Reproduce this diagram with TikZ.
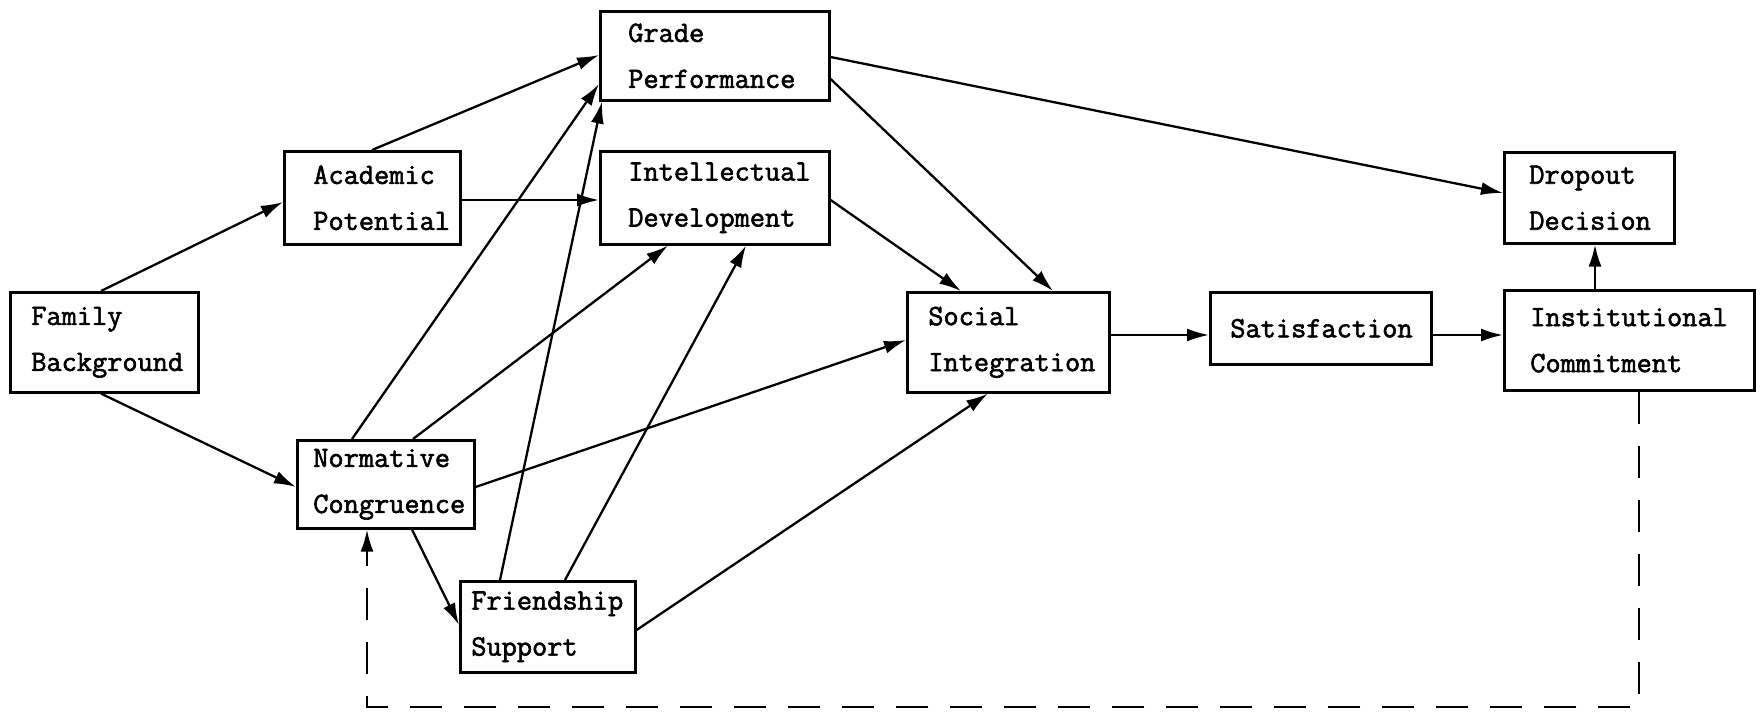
\documentclass[tikz,border=0pt]{standalone}
\usepackage{fontspec}
\newfontfamily\tw{Latin Modern Mono}[FakeBold=2]
\usetikzlibrary{arrows.meta,calc}
\hbadness=10000 \hfuzz=300pt
\begin{document}
\begin{tikzpicture}[x=1pt,y=-1pt,
  box/.style={draw, line width=2.6pt, inner ysep=0pt, align=left, anchor=north west,
    font=\tw\fontsize{29.5pt}{46pt}\selectfont},
  conn/.style={line width=2.3pt, -{Latex[length=22pt,width=13pt]}},
  loopline/.style={line width=2.3pt, dash pattern=on 32pt off 22pt, -{Latex[length=22pt,width=13pt]}},
]
\useasboundingbox (0,0) rectangle (1763,712);

\node[box, minimum width=188pt, minimum height=100pt, text width=146pt, inner xsep=21pt] (fb) at (9,291) {Family\\Background};
\node[box, minimum width=176pt, minimum height=93pt, text width=118pt, inner xsep=29pt] (ap) at (283,150) {Academic\\Potential};
\node[box, minimum width=229pt, minimum height=89pt, text width=173pt, inner xsep=28pt] (gp) at (599,10) {Grade\\Performance};
\node[box, minimum width=229pt, minimum height=93pt, text width=173pt, inner xsep=28pt] (id) at (599,150) {Intellectual\\Development};
\node[box, minimum width=177pt, minimum height=88pt, text width=145pt, inner xsep=16pt] (nc) at (296,439) {Normative\\Congruence};
\node[box, minimum width=175pt, minimum height=91pt, text width=153pt, inner xsep=11pt] (fs) at (459,580) {Friendship\\Support};
\node[box, minimum width=202pt, minimum height=100pt, text width=160pt, inner xsep=21pt] (si) at (906,291) {Social\\Integration};
\node[box, minimum width=221pt, minimum height=72pt, text width=181pt, inner xsep=20pt] (sat) at (1209,291) {Satisfaction};
\node[box, minimum width=170pt, minimum height=91pt, text width=120pt, inner xsep=25pt] (dd) at (1503,151) {Dropout\\Decision};
\node[box, minimum width=250pt, minimum height=100pt, text width=198pt, inner xsep=26pt] (ic) at (1503,289) {Institutional\\Commitment};

\draw[conn] ($(fb.north west)+(92,0)$) -- ($(ap.north west)+(0,52)$);
\draw[conn] ($(fb.south west)+(92,0)$) -- ($(nc.north west)+(0,48)$);
\draw[conn] ($(ap.north west)+(89,0)$) -- ($(gp.north west)+(0,45)$);
\draw[conn] ($(ap.north east)+(0,50)$) -- ($(id.north west)+(0,50)$);
\draw[conn] ($(nc.north west)+(56,0)$) -- ($(gp.north west)+(0,74)$);
\draw[conn] ($(fs.north west)+(41,0)$) -- ($(gp.south west)+(3,0)$);
\draw[conn] ($(nc.north west)+(117,0)$) -- ($(id.south west)+(69,0)$);
\draw[conn] ($(fs.north west)+(106,0)$) -- ($(id.south west)+(147,0)$);
\draw[conn] ($(nc.north east)+(0,48)$) -- ($(si.north west)+(0,49)$);
\draw[conn] ($(nc.south west)+(116,0)$) -- ($(fs.north west)+(0,45)$);
\draw[conn] ($(fs.north east)+(0,50)$) -- ($(si.south west)+(82,0)$);
\draw[conn] ($(gp.north east)+(0,47)$) -- ($(dd.north west)+(0,42)$);
\draw[conn] ($(gp.north east)+(0,69)$) -- ($(si.north west)+(147,0)$);
\draw[conn] ($(id.north east)+(0,50)$) -- ($(si.north west)+(55,0)$);
\draw[conn] ($(si.north east)+(0,44)$) -- ($(sat.north west)+(0,44)$);
\draw[conn] ($(sat.north east)+(0,44)$) -- ($(ic.north west)+(0,46)$);
\draw[conn] ($(ic.north west)+(92,0)$) -- ($(dd.south west)+(92,0)$);

\coordinate (loopcorner) at (367,707);
\draw[loopline] ($(ic.south west)+(136,0)$) |- (loopcorner) -- ($(nc.south west)+(71,0)$);
\end{tikzpicture}
\end{document}
